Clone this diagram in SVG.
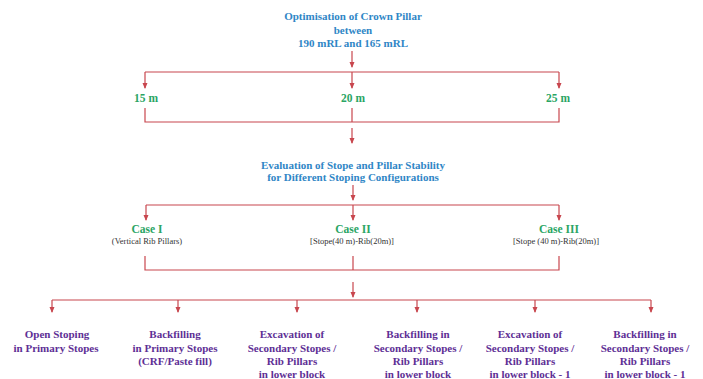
<svg xmlns="http://www.w3.org/2000/svg" width="703" height="379" viewBox="0 0 703 379">
<style>
text{font-family:"Liberation Serif","DejaVu Serif",serif;font-weight:bold;text-anchor:middle}
.t{fill:#2f86c6;font-size:11px}
.g{fill:#2aa564;font-size:11.5px}
.s{fill:#333;font-size:8.5px;font-weight:normal}
.p{fill:#5e2f95;font-size:11px}
.c line,.c path{stroke:#c8464e;stroke-width:1.2;fill:none}
</style>
<defs>
<marker id="a" markerWidth="6" markerHeight="6" refX="5" refY="3" orient="auto" markerUnits="userSpaceOnUse">
<path d="M0,0.5 L6,3 L0,5.5 Z" fill="#c8464e"/>
</marker>
</defs>
<rect width="703" height="379" fill="#fff"/>
<g class="c" id="connectors">
<line x1="352" y1="51" x2="352" y2="67" marker-end="url(#a)"/>
<line x1="145" y1="72" x2="559" y2="72"/>
<line x1="145" y1="72" x2="145" y2="88" marker-end="url(#a)"/>
<line x1="352" y1="72" x2="352" y2="88" marker-end="url(#a)"/>
<line x1="559" y1="72" x2="559" y2="88" marker-end="url(#a)"/>
<path d="M145,108 V122 H559 V108 M352,108 V122"/>
<line x1="352" y1="128" x2="352" y2="143" marker-end="url(#a)"/>
<line x1="353" y1="185" x2="353" y2="200" marker-end="url(#a)"/>
<line x1="146" y1="205" x2="559" y2="205"/>
<line x1="146" y1="205" x2="146" y2="220" marker-end="url(#a)"/>
<line x1="353" y1="205" x2="353" y2="220" marker-end="url(#a)"/>
<line x1="559" y1="205" x2="559" y2="220" marker-end="url(#a)"/>
<path d="M145,256 V270 H559 V256 M353,256 V270"/>
<line x1="353" y1="282" x2="353" y2="297" marker-end="url(#a)"/>
<line x1="52" y1="300" x2="651" y2="300"/>
<line x1="52" y1="300" x2="52" y2="312" marker-end="url(#a)"/>
<line x1="178" y1="300" x2="178" y2="312" marker-end="url(#a)"/>
<line x1="297" y1="300" x2="297" y2="312" marker-end="url(#a)"/>
<line x1="417" y1="300" x2="417" y2="312" marker-end="url(#a)"/>
<line x1="535" y1="300" x2="535" y2="312" marker-end="url(#a)"/>
<line x1="651" y1="300" x2="651" y2="312" marker-end="url(#a)"/>
</g>
<g id="title"><text class="t" x="353" y="20">Optimisation of Crown Pillar</text><text class="t" x="353" y="34">between</text><text class="t" x="353" y="47">190 mRL and 165 mRL</text></g>
<g id="n15"><text class="g" x="146" y="102">15 m</text></g>
<g id="n20"><text class="g" x="353" y="102">20 m</text></g>
<g id="n25"><text class="g" x="558" y="102">25 m</text></g>
<g id="eval"><text class="t" x="353" y="169">Evaluation of Stope and Pillar Stability</text><text class="t" x="353" y="181">for Different Stoping Configurations</text></g>
<g id="case1"><text class="g" x="147" y="233">Case I</text><text class="s" x="147" y="244">(Vertical Rib Pillars)</text></g>
<g id="case2"><text class="g" x="353" y="233">Case II</text><text class="s" x="352" y="244">[Stope(40 m)-Rib(20m)]</text></g>
<g id="case3"><text class="g" x="559" y="233">Case III</text><text class="s" x="556" y="244">[Stope (40 m)-Rib(20m)]</text></g>
<g id="b1"><text class="p" x="57" y="338">Open Stoping</text><text class="p" x="56" y="352">in Primary Stopes</text></g>
<g id="b2"><text class="p" x="175" y="338">Backfilling</text><text class="p" x="175" y="352">in Primary Stopes</text><text class="p" x="175" y="365">(CRF/Paste fill)</text></g>
<g id="b3"><text class="p" x="292" y="338">Excavation of</text><text class="p" x="292" y="352">Secondary Stopes /</text><text class="p" x="292" y="365">Rib Pillars</text><text class="p" x="292" y="378">in lower block</text></g>
<g id="b4"><text class="p" x="418" y="338">Backfilling in</text><text class="p" x="418" y="352">Secondary Stopes /</text><text class="p" x="418" y="365">Rib Pillars</text><text class="p" x="418" y="378">in lower block</text></g>
<g id="b5"><text class="p" x="530" y="338">Excavation of</text><text class="p" x="530" y="352">Secondary Stopes /</text><text class="p" x="530" y="365">Rib Pillars</text><text class="p" x="530" y="378">in lower block - 1</text></g>
<g id="b6"><text class="p" x="645" y="338">Backfilling in</text><text class="p" x="645" y="352">Secondary Stopes /</text><text class="p" x="645" y="365">Rib Pillars</text><text class="p" x="645" y="378">in lower block - 1</text></g>
</svg>
